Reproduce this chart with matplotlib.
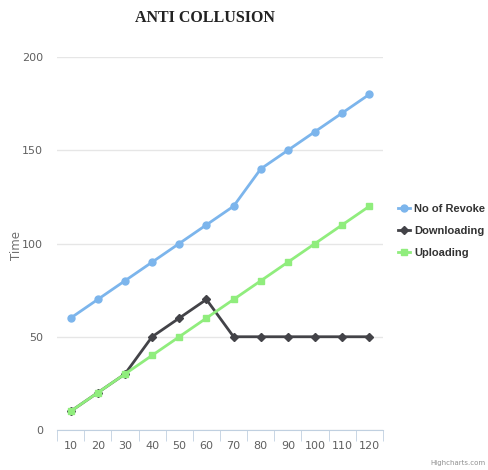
import matplotlib
matplotlib.use('Agg')
import matplotlib.pyplot as plt
import numpy as np

categories = ['10', '20', '30', '40', '50', '60', '70', '80', '90', '100', '110', '120']
revoke = [60, 70, 80, 90, 100, 110, 120, 140, 150, 160, 170, 180]
downloading = [10, 20, 30, 50, 60, 70, 50, 50, 50, 50, 50, 50]
uploading = [10, 20, 30, 40, 50, 60, 70, 80, 90, 100, 110, 120]

fig = plt.figure(figsize=(4.89, 4.70), dpi=100)
ax = fig.add_axes([57 / 489, 1 - 430 / 470, 326 / 489, 373 / 470])

x = np.arange(len(categories))
ax.plot(x, revoke, color='#7cb5ec', marker='o', markersize=5, linewidth=2, label='No of Revoke', zorder=3)
ax.plot(x, downloading, color='#434348', marker='D', markersize=4, linewidth=2, label='Downloading', zorder=4)
ax.plot(x, uploading, color='#90ed7d', marker='s', markersize=5, linewidth=2, label='Uploading', zorder=5)

ax.set_xlim(-0.5, len(categories) - 0.5)
ax.set_ylim(0, 200)
ax.set_yticks([0, 50, 100, 150, 200])
ax.set_xticks(x)
ax.set_xticklabels(categories)
ax.set_xticks(np.arange(-0.5, len(categories)), minor=True)
ax.grid(axis='y', color='#e6e6e6', linewidth=1)
ax.set_axisbelow(True)
for s in ['top', 'right', 'left']:
    ax.spines[s].set_visible(False)
ax.spines['bottom'].set_color('#c0d0e0')
ax.tick_params(axis='x', which='major', length=0, pad=8, labelsize=8, colors='#606060')
ax.tick_params(axis='x', which='minor', length=8, color='#c0d0e0')
ax.tick_params(axis='y', length=0, pad=10, labelsize=8, colors='#606060')

fig.text(16 / 489, 1 - 245 / 470, 'Time', rotation=90, ha='center', va='center',
         color='#707070', fontsize=8.5)

fig.text(205 / 489, 1 - 18 / 470, 'ANTI COLLUSION', ha='center', va='center',
         family='Liberation Serif', fontweight='bold', fontsize=11.5, color='#222222')

leg = fig.legend(loc='center left', bbox_to_anchor=(394 / 489, 1 - 231 / 470), frameon=False,
                 prop={'family': 'Liberation Sans', 'weight': 'bold', 'size': 8},
                 handlelength=1.0, handletextpad=0.4, labelspacing=1.1, borderaxespad=0)
for t in leg.get_texts():
    t.set_color('#333333')

fig.text(486 / 489, 1 - 463 / 470, 'Highcharts.com', ha='right', va='center', fontsize=5, color='#909090')

fig.savefig('out.png', dpi=100)
